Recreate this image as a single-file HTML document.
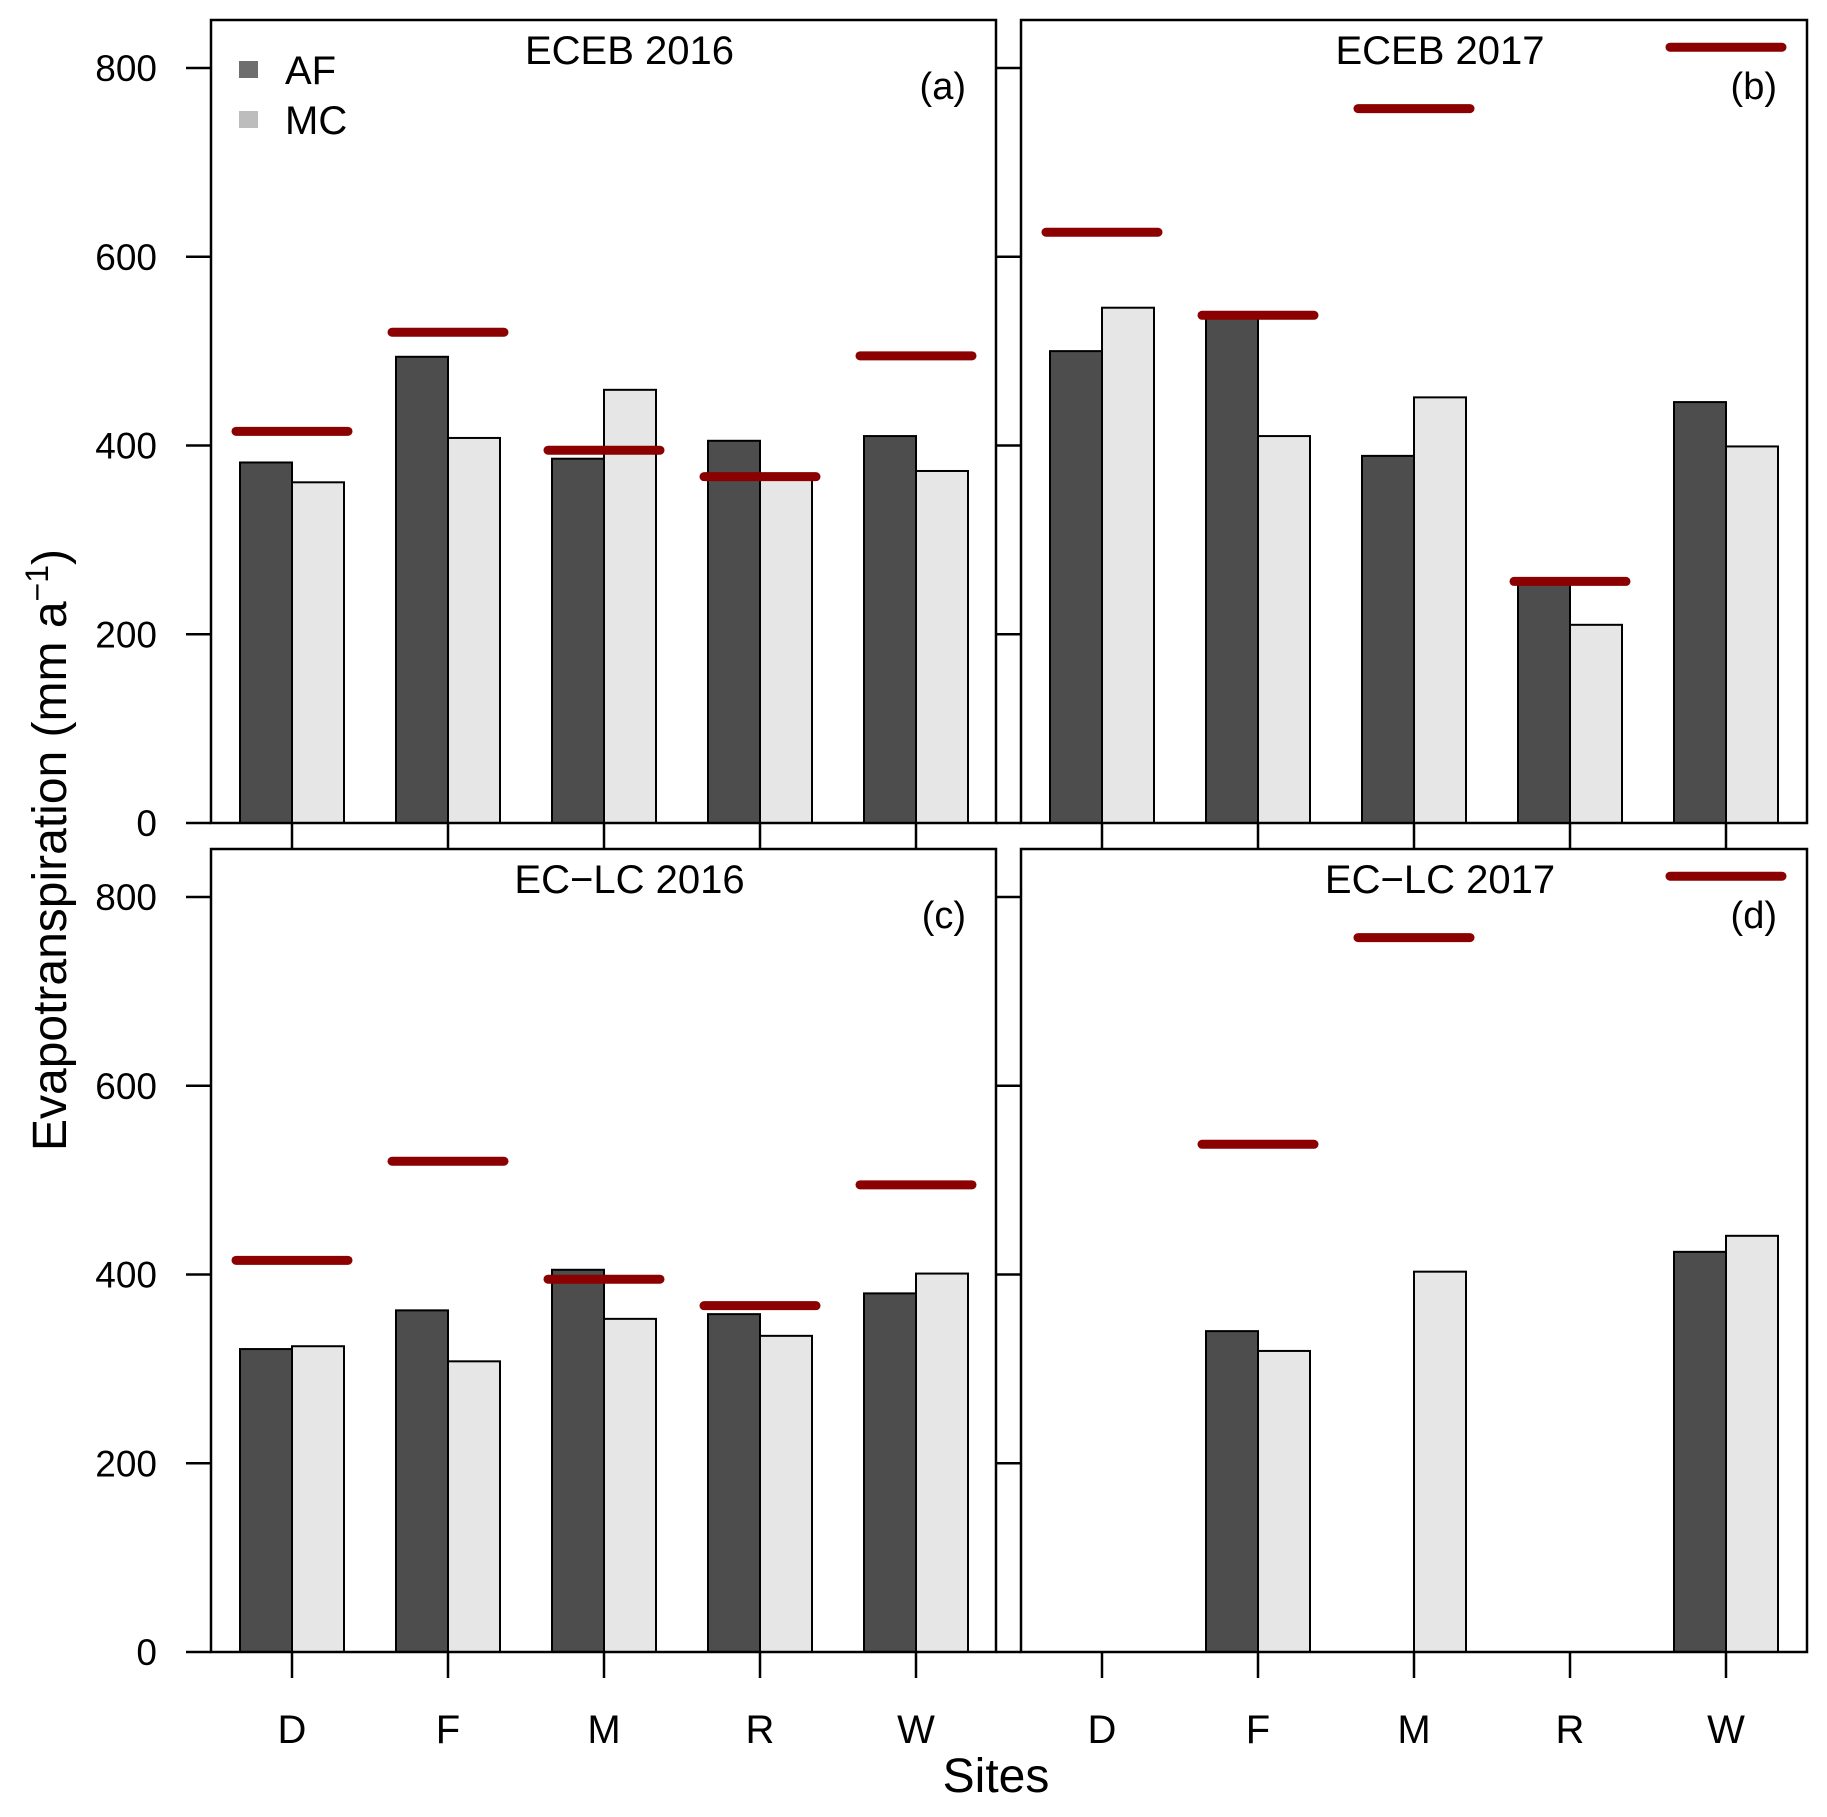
<!DOCTYPE html>
<html><head><meta charset="utf-8"><style>
html,body{margin:0;padding:0;background:#fff}
svg text{font-family:"Liberation Sans",Arial,sans-serif;fill:#000}
</style></head><body>
<svg id="chart" width="1827" height="1812" viewBox="0 0 1827 1812" xmlns="http://www.w3.org/2000/svg"></svg>
<script>
const categories = ["D","F","M","R","W"];
const panelTitles = ["ECEB 2016","ECEB 2017","EC\u2212LC 2016","EC\u2212LC 2017"];
const panelLetters = ["(a)","(b)","(c)","(d)"];
const afA = [382,494,386,405,410];
const mcA = [361,408,459,365,373];
const refA = [415,520,395,367,495];
const afB = [500,538,389,256,446];
const mcB = [546,410,451,210,399];
const refB = [626,538,757,256,822];
const afC = [321,362,405,358,380];
const mcC = [324,308,353,335,401];
const refC = [415,520,395,367,495];
const afD = [null,340,null,null,424];
const mcD = [null,319,403,null,441];
const refD = [null,538,757,null,822];
const yTicks = [0,200,400,600,800];

const svg = document.getElementById('chart');
const NS = 'http://www.w3.org/2000/svg';
function mk(tag, attrs, parent){
  const e = document.createElementNS(NS, tag);
  for (const k in attrs) e.setAttribute(k, attrs[k]);
  (parent||svg).appendChild(e);
  return e;
}
const panels = [
  {x0:211,x1:996,top:20,zero:823,af:afA,mc:mcA,ref:refA,labels:true},
  {x0:1021,x1:1807,top:20,zero:823,af:afB,mc:mcB,ref:refB,labels:false},
  {x0:211,x1:996,top:849,zero:1652,af:afC,mc:mcC,ref:refC,labels:true},
  {x0:1021,x1:1807,top:849,zero:1652,af:afD,mc:mcD,ref:refD,labels:false}
];
const pxPerUnit = 755/800;
panels.forEach((p, pi) => {
  const g = mk('g', {});
  
  
  const y = v => p.zero - v*pxPerUnit;
  const xc = i => p.x0 + 81 + i*156;
  categories.forEach((c, i) => {
    if (p.af[i] !== null) {
      const r = mk('rect', {x:xc(i)-52, y:y(p.af[i]), width:52, height:p.zero-y(p.af[i]), fill:'#4d4d4d', stroke:'#000', 'stroke-width':2}, g);
      
      
    }
    if (p.mc[i] !== null) {
      const r = mk('rect', {x:xc(i), y:y(p.mc[i]), width:52, height:p.zero-y(p.mc[i]), fill:'#e6e6e6', stroke:'#000', 'stroke-width':2}, g);
      
      
    }
  });
  categories.forEach((c, i) => {
    if (p.ref[i] !== null) {
      const l = mk('line', {x1:xc(i)-56, x2:xc(i)+56, y1:y(p.ref[i]), y2:y(p.ref[i]), stroke:'#8b0000', 'stroke-width':9, 'stroke-linecap':'round'}, g);
      
      
    }
  });
  const fr = mk('rect', {x:p.x0, y:p.top, width:p.x1-p.x0, height:p.zero-p.top, fill:'none', stroke:'#000', 'stroke-width':2.5}, g);
  
  
  yTicks.forEach(t => {
    const tl = mk('line', {x1:p.x0-25, x2:p.x0, y1:y(t), y2:y(t), stroke:'#000', 'stroke-width':2.5}, g);
    
    
    if (p.labels) {
      const tx = mk('text', {x:p.x0-54, y:y(t)+13, 'font-size':37, 'text-anchor':'end'}, g);
      tx.textContent = t;
      
      
    }
  });
  categories.forEach((c, i) => {
    const tl = mk('line', {x1:xc(i), x2:xc(i), y1:p.zero, y2:p.zero+26, stroke:'#000', 'stroke-width':2.5}, g);
    
    
    if (pi >= 2) {
      const tx = mk('text', {x:xc(i), y:1743, 'font-size':40, 'text-anchor':'middle'}, g);
      tx.textContent = c;
      
      
    }
  });
  const ti = mk('text', {x:(p.x0+p.x1)/2+26, y:p.top+44, 'font-size':40, 'text-anchor':'middle'}, g);
  ti.textContent = panelTitles[pi];
  
  
  const lt = mk('text', {x:p.x1-30, y:p.top+79, 'font-size':38, 'text-anchor':'end'}, g);
  lt.textContent = panelLetters[pi];
  
  
});
</script>
<div style="position:absolute;left:0;top:0;width:1827px;height:1812px;pointer-events:none">
<svg width="1827" height="1812" xmlns="http://www.w3.org/2000/svg" style="position:absolute;left:0;top:0">
  <g>
    <rect x="239" y="61" width="19" height="17" fill="#6e6e6e"/>
    <text x="285" y="84" font-size="40">AF</text>
    <rect x="239" y="111" width="19" height="17" fill="#bdbdbd"/>
    <text x="285" y="134" font-size="40">MC</text>
  </g>
  <text x="996" y="1792" font-size="48" text-anchor="middle">Sites</text>
  <text transform="translate(66,850) rotate(-90)" font-size="48" text-anchor="middle">Evapotranspiration (mm a<tspan dy="-18" font-size="32">−1</tspan><tspan dy="18">)</tspan></text>
</svg>
</div>
</body></html>
